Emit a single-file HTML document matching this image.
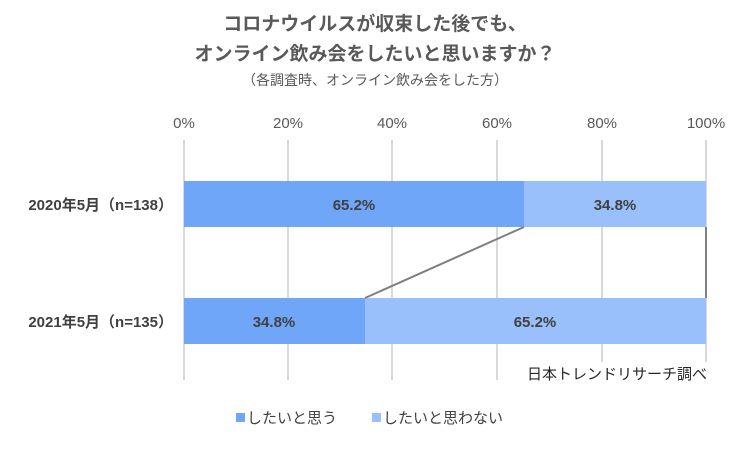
<!DOCTYPE html>
<html><head><meta charset="utf-8"><style>
body{margin:0;background:#fff;}
</style></head><body>
<svg width="750" height="450" xmlns="http://www.w3.org/2000/svg" font-family="'Liberation Sans','Noto Sans CJK JP',sans-serif">
<rect width="750" height="450" fill="#fff"/>
<g fill="#595959" text-anchor="middle" font-weight="bold" font-size="19">
<text x="375" y="30">コロナウイルスが収束した後でも、</text>
<text x="375" y="60">オンライン飲み会をしたいと思いますか？</text>
</g>
<text x="375" y="85" fill="#595959" text-anchor="middle" font-size="14">（各調査時、オンライン飲み会をした方）</text>
<g stroke="#d9d9d9" stroke-width="2">
<line x1="184" y1="140" x2="184" y2="380"/><line x1="288" y1="140" x2="288" y2="380"/>
<line x1="392" y1="140" x2="392" y2="380"/><line x1="497" y1="140" x2="497" y2="380"/>
<line x1="602" y1="140" x2="602" y2="380"/><line x1="706" y1="140" x2="706" y2="380"/>
</g>
<g fill="#595959" font-size="15" text-anchor="middle">
<text x="184" y="128">0%</text><text x="288" y="128">20%</text><text x="392" y="128">40%</text>
<text x="497" y="128">60%</text><text x="602" y="128">80%</text><text x="706" y="128">100%</text>
</g>
<rect x="184" y="181" width="340" height="46" fill="#70a6f8"/>
<rect x="524" y="181" width="182" height="46" fill="#99c0fb"/>
<rect x="184" y="298" width="181" height="46" fill="#70a6f8"/>
<rect x="365" y="298" width="341" height="46" fill="#99c0fb"/>
<line x1="524" y1="227" x2="365" y2="298" stroke="#7f7f7f" stroke-width="2"/>
<line x1="706" y1="227" x2="706" y2="298" stroke="#7f7f7f" stroke-width="2"/>
<g fill="#404040" font-size="15" font-weight="bold" text-anchor="middle">
<text x="354" y="210">65.2%</text><text x="615" y="210">34.8%</text>
<text x="274" y="327">34.8%</text><text x="535" y="327">65.2%</text>
</g>
<g fill="#404040" font-size="15" font-weight="bold" text-anchor="end">
<text x="173" y="210">2020年5月（n=138）</text>
<text x="173" y="327">2021年5月（n=135）</text>
</g>
<rect x="506" y="362" width="202" height="22" fill="#fff"/>
<text x="707" y="379" fill="#262626" font-size="15" text-anchor="end">日本トレンドリサーチ調べ</text>
<rect x="236" y="413" width="9" height="9" fill="#70a6f8"/>
<text x="247" y="423" fill="#404040" font-size="15">したいと思う</text>
<rect x="372" y="413" width="9" height="9" fill="#99c0fb"/>
<text x="383" y="423" fill="#404040" font-size="15">したいと思わない</text>
</svg>
</body></html>
